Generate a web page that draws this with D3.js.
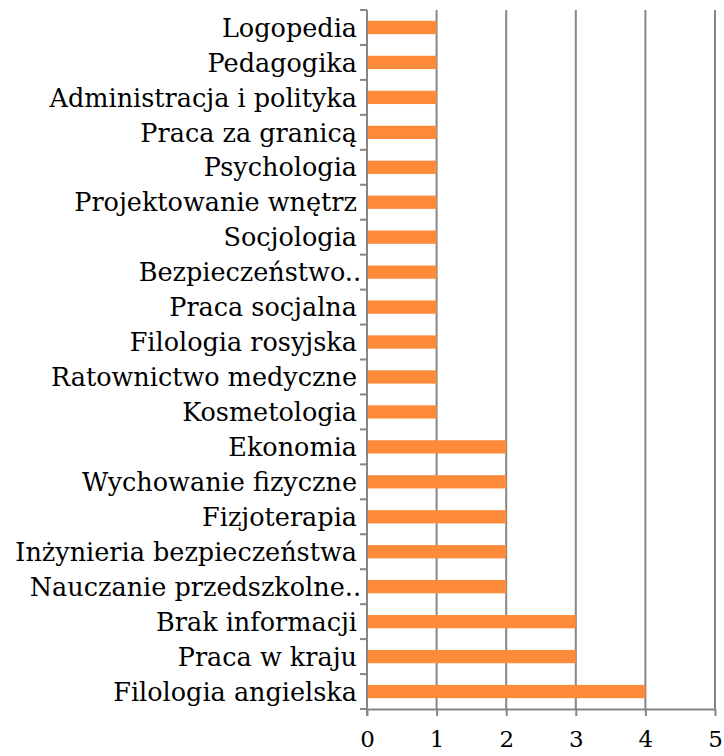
<!DOCTYPE html>
<html><head><meta charset="utf-8">
<script src="https://cdn.jsdelivr.net/npm/d3@7"></script>
<style>body{margin:0;background:#fff}</style>
</head><body>
<script>
const categories = ["Logopedia","Pedagogika","Administracja i polityka","Praca za granicą","Psychologia","Projektowanie wnętrz","Socjologia","Bezpieczeństwo..","Praca socjalna","Filologia rosyjska","Ratownictwo medyczne","Kosmetologia","Ekonomia","Wychowanie fizyczne","Fizjoterapia","Inżynieria bezpieczeństwa","Nauczanie przedszkolne..","Brak informacji","Praca w kraju","Filologia angielska"];
const values = [1,1,1,1,1,1,1,1,1,1,1,1,2,2,2,2,2,3,3,4];
const xTicks = [0,1,2,3,4,5];

const W=724,H=756;
const m={l:367,r:9,t:10,b:47};
const svg=d3.select("body").append("svg").attr("width",W).attr("height",H);
const x=d3.scaleLinear().domain([0,5]).range([m.l,W-m.r]);
const y=d3.scaleBand().domain(categories).range([m.t,H-m.b]).paddingInner(0.62).paddingOuter(0.31);
const font="'DejaVu Serif', serif";
const grid="#868686";

svg.append("g").selectAll("line").data(xTicks.slice(1)).join("line")
 .attr("x1",d=>x(d)).attr("x2",d=>x(d)).attr("y1",m.t).attr("y2",H-m.b)
 .attr("stroke",grid).attr("stroke-width",2);

svg.append("g").selectAll("rect").data(categories).join("rect")
 .attr("x",x(0)).attr("y",d=>y(d)).attr("height",y.bandwidth())
 .attr("width",(d,i)=>x(values[i])-x(0)).attr("fill","#fd8b3a");

// bottom axis
const xa=svg.append("g").attr("transform",`translate(0,${H-m.b})`)
 .call(d3.axisBottom(x).tickValues(xTicks).tickSize(7).tickPadding(15).tickSizeOuter(0).tickFormat(d3.format("d")));
xa.select(".domain").attr("stroke",grid).attr("stroke-width",2);
xa.selectAll(".tick line").attr("stroke",grid).attr("stroke-width",2);
xa.selectAll("text").attr("font-family",font).attr("font-size",23).attr("fill","#000");

// left axis with boundary ticks
const bounds=d3.range(categories.length+1).map(i=>m.t+i*(H-m.t-m.b)/categories.length);
const la=svg.append("g");
la.append("line").attr("x1",x(0)).attr("x2",x(0)).attr("y1",m.t).attr("y2",H-m.b+7).attr("stroke",grid).attr("stroke-width",2);
la.selectAll("line.t").data(bounds).join("line").attr("class","t")
 .attr("x1",x(0)-7).attr("x2",x(0)).attr("y1",d=>d).attr("y2",d=>d).attr("stroke",grid).attr("stroke-width",2);
la.selectAll("text").data(categories).join("text")
 .attr("x",d=>d.endsWith("..")?x(0)-6:x(0)-10).attr("y",d=>y(d)+y.bandwidth()/2)
 .attr("dy","0.36em").attr("text-anchor","end")
 .attr("font-family",font).attr("font-size",25.5).attr("fill","#000").text(d=>d);
</script>
</body></html>
